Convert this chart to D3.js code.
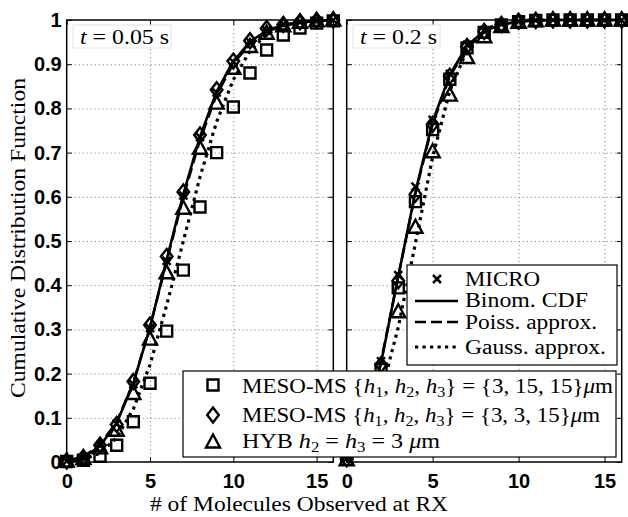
<!DOCTYPE html>
<html>
<head>
<meta charset="utf-8">
<script src="https://cdn.jsdelivr.net/npm/d3@7"></script>
<style>
body { margin: 0; background: #fff; }
</style>
</head>
<body>
<svg id="chart" width="628" height="517"></svg>
<script>
// x positions and ticks
const moleculeCounts = [0, 1, 2, 3, 4, 5, 6, 7, 8, 9, 10, 11, 12, 13, 14, 15, 16];
const xTickValues = [0, 5, 10, 15];
const yTickValues = [0, 0.1, 0.2, 0.3, 0.4, 0.5, 0.6, 0.7, 0.8, 0.9, 1];
const yTickLabels = ['0', '0.1', '0.2', '0.3', '0.4', '0.5', '0.6', '0.7', '0.8', '0.9', '1'];
const panelTimes = ['0.05', '0.2'];

// t = 0.05 s
const microEarly  = [0.002, 0.011, 0.037, 0.087, 0.176, 0.303, 0.455, 0.603, 0.735, 0.836, 0.905, 0.950, 0.976, 0.990, 0.995, 0.998, 1.000];
const binomEarly  = [0.002, 0.010, 0.036, 0.088, 0.178, 0.305, 0.458, 0.606, 0.736, 0.838, 0.906, 0.951, 0.976, 0.989, 0.995, 0.998, 0.999];
const poissEarly  = [0.003, 0.012, 0.039, 0.091, 0.180, 0.305, 0.454, 0.600, 0.729, 0.831, 0.901, 0.947, 0.973, 0.988, 0.994, 0.998, 0.999];
const gaussEarly  = [0.001, 0.006, 0.020, 0.055, 0.120, 0.220, 0.355, 0.500, 0.645, 0.770, 0.865, 0.930, 0.968, 0.987, 0.995, 0.998, 1.000];
const mesoCoarseEarly = [0.001, 0.004, 0.013, 0.038, 0.091, 0.178, 0.296, 0.434, 0.577, 0.700, 0.803, 0.880, 0.932, 0.966, 0.982, 0.993, 0.998];
const mesoFineEarly   = [0.002, 0.010, 0.038, 0.085, 0.182, 0.310, 0.465, 0.611, 0.740, 0.842, 0.907, 0.953, 0.981, 0.990, 0.996, 0.999, 1.000];
const hybEarly        = [0.002, 0.008, 0.032, 0.072, 0.155, 0.278, 0.428, 0.574, 0.710, 0.812, 0.891, 0.940, 0.970, 0.987, 0.995, 0.998, 1.000];

// t = 0.2 s
const microLate  = [0.008, 0.070, 0.228, 0.423, 0.623, 0.774, 0.878, 0.944, 0.976, 0.991, 0.997, 0.999, 1.000, 1.000, 1.000, 1.000, 1.000];
const binomLate  = [0.008, 0.068, 0.224, 0.420, 0.612, 0.770, 0.876, 0.942, 0.975, 0.990, 0.997, 0.999, 1.000, 1.000, 1.000, 1.000, 1.000];
const poissLate  = [0.010, 0.072, 0.228, 0.420, 0.608, 0.765, 0.872, 0.938, 0.972, 0.989, 0.996, 0.999, 1.000, 1.000, 1.000, 1.000, 1.000];
const gaussLate  = [0.020, 0.062, 0.155, 0.305, 0.495, 0.690, 0.840, 0.932, 0.977, 0.994, 0.999, 1.000, 1.000, 1.000, 1.000, 1.000, 1.000];
const mesoCoarseLate = [0.006, 0.060, 0.210, 0.394, 0.589, 0.752, 0.866, 0.937, 0.972, 0.989, 0.996, 0.999, 1.000, 1.000, 1.000, 1.000, 1.000];
const mesoFineLate   = [0.007, 0.066, 0.220, 0.410, 0.606, 0.764, 0.873, 0.940, 0.974, 0.990, 0.997, 0.999, 1.000, 1.000, 1.000, 1.000, 1.000];
const hybLate        = [0.005, 0.050, 0.180, 0.340, 0.531, 0.702, 0.830, 0.915, 0.962, 0.985, 0.995, 0.998, 1.000, 1.000, 1.000, 1.000, 1.000];

const TOP = 20;
const PLOT_H = 442;
const LINE_W = 2.6;
const DOT_W = 3.2;
const MARK_W = 2.4;
const SERIF = '"Liberation Serif", "Times New Roman", "DejaVu Serif", serif';
const SANS = '"Liberation Sans", Arial, Helvetica, sans-serif';
const DOTS = '3.2,4.3';
const DASHES = '11,5';

// marker shapes, centred on the point
const SQUARE = 'M-5.5,-5.5H5.5V5.5H-5.5Z';
const DIAMOND = 'M0,-7.5L5.8,0L0,7.5L-5.8,0Z';
const TRIANGLE = 'M0,-7.5L7,5.5H-7Z';
const CROSS = 'M-4,-4L4,4M-4,4L4,-4';

const svg = d3.select('#chart');

function drawPanel(left, width, series, showYLabels) {
    var g = svg.append('g').attr('transform', 'translate(' + left + ',' + TOP + ')');
    var x = d3.scaleLinear().domain([0, 16]).range([0, width]);
    var y = d3.scaleLinear().domain([0, 1]).range([PLOT_H, 0]);

    // dotted grid
    var gx = g.append('g').attr('transform', 'translate(0,' + PLOT_H + ')')
        .call(d3.axisBottom(x).tickValues([5, 10, 15]).tickSize(-PLOT_H).tickFormat(''));
    var gy = g.append('g')
        .call(d3.axisLeft(y).tickValues(yTickValues.slice(1, 10)).tickSize(-width).tickFormat(''));
    [gx, gy].forEach(function(a) {
        a.select('.domain').remove();
        a.selectAll('line').attr('stroke', '#777').attr('stroke-width', 1).attr('stroke-dasharray', '1,3');
    });

    // inner tick marks on all four sides
    var tickSets = [
        g.append('g').attr('transform', 'translate(0,' + PLOT_H + ')').call(d3.axisBottom(x).tickValues(xTickValues).tickSize(-5).tickFormat('')),
        g.append('g').call(d3.axisTop(x).tickValues(xTickValues).tickSize(-5).tickFormat('')),
        g.append('g').call(d3.axisLeft(y).tickValues(yTickValues).tickSize(-5).tickFormat('')),
        g.append('g').attr('transform', 'translate(' + width + ',0)').call(d3.axisRight(y).tickValues(yTickValues).tickSize(-5).tickFormat(''))
    ];
    tickSets.forEach(function(a) {
        a.select('.domain').remove();
        a.selectAll('line').attr('stroke', '#000').attr('stroke-width', 1);
    });

    // tick labels
    var xl = g.append('g').attr('transform', 'translate(0,' + PLOT_H + ')')
        .call(d3.axisBottom(x).tickValues(xTickValues).tickSize(0).tickPadding(12).tickFormat(d3.format('d')));
    xl.select('.domain').remove();
    xl.attr('font-family', SANS).attr('font-size', 20).attr('font-weight', 'bold');
    if (showYLabels) {
        var yl = g.append('g')
            .call(d3.axisLeft(y).tickValues(yTickValues).tickSize(0).tickPadding(5)
                .tickFormat(function(d, i) { return yTickLabels[i]; }));
        yl.select('.domain').remove();
        yl.attr('font-family', SANS).attr('font-size', 20).attr('font-weight', 'bold');
    }
    g.selectAll('.tick text').attr('fill', '#000');

    // analytic curves
    var line = d3.line().x(function(d) { return x(d[0]); }).y(function(d) { return y(d[1]); });
    var curves = [
        [series.binom, null],
        [series.poiss, DASHES],
        [series.gauss, DOTS]
    ];
    curves.forEach(function(c) {
        g.append('path')
            .datum(d3.zip(moleculeCounts, c[0]))
            .attr('d', line)
            .attr('fill', 'none')
            .attr('stroke', '#000')
            .attr('stroke-width', c[1] === DOTS ? DOT_W : LINE_W)
            .attr('stroke-dasharray', c[1]);
    });

    // simulation markers
    var marks = [
        [series.meso1, SQUARE],
        [series.meso2, DIAMOND],
        [series.hyb, TRIANGLE],
        [series.micro, CROSS]
    ];
    marks.forEach(function(m) {
        g.append('g').selectAll('path')
            .data(d3.zip(moleculeCounts, m[0]))
            .join('path')
            .attr('transform', function(d) { return 'translate(' + x(d[0]) + ',' + y(d[1]) + ')'; })
            .attr('d', m[1])
            .attr('fill', 'none')
            .attr('stroke', '#000')
            .attr('stroke-width', MARK_W);
    });

    // axes box
    g.append('rect').attr('width', width).attr('height', PLOT_H)
        .attr('fill', 'none').attr('stroke', '#000').attr('stroke-width', 1.5);
    return g;
}

// rich text: segments [text, style] where style is 'i' (italic) or 'sub'
function richText(parent, px, py, segs, size, len) {
    var t = parent.append('text').attr('x', px).attr('y', py)
        .attr('font-size', size).attr('font-family', SERIF).attr('fill', '#000');
    var shifted = false;
    segs.forEach(function(s) {
        var ts = t.append('tspan').text(s[0]);
        if (s[1] === 'i') ts.attr('font-style', 'italic');
        if (s[1] === 'sub') {
            ts.attr('font-size', size * 0.7).attr('dy', shifted ? 0 : 4);
            shifted = true;
        } else if (shifted) {
            ts.attr('dy', -4);
            shifted = false;
        }
    });
    if (len) t.attr('textLength', len).attr('lengthAdjust', 'spacingAndGlyphs');
    return t;
}

var early = { micro: microEarly, binom: binomEarly, poiss: poissEarly, gauss: gaussEarly,
              meso1: mesoCoarseEarly, meso2: mesoFineEarly, hyb: hybEarly };
var late  = { micro: microLate, binom: binomLate, poiss: poissLate, gauss: gaussLate,
              meso1: mesoCoarseLate, meso2: mesoFineLate, hyb: hybLate };

drawPanel(66.7, 266.6, early, true);
drawPanel(346.7, 275, late, false);

// time labels
[[73, 98, 80, 89], [353, 87, 360, 77]].forEach(function(b, i) {
    svg.append('rect').attr('x', b[0]).attr('y', 25).attr('width', b[1]).attr('height', 23)
        .attr('fill', '#fff').attr('stroke', '#e4e4e4').attr('stroke-width', 1);
    richText(svg, b[2], 44, [['t', 'i'], [' = ' + panelTimes[i] + ' s']], 20, b[3]);
});

// axis titles
richText(svg, 150, 511, [['# of Molecules Observed at RX']], 20, 298);
svg.append('text').attr('transform', 'translate(25,398) rotate(-90)')
    .attr('font-size', 20).attr('font-family', SERIF).attr('fill', '#000')
    .attr('textLength', 320).attr('lengthAdjust', 'spacingAndGlyphs')
    .text('Cumulative Distribution Function');

// legend for the analytic curves
var leg1 = svg.append('g');
leg1.append('rect').attr('x', 407).attr('y', 265).attr('width', 210).attr('height', 100)
    .attr('fill', '#fff').attr('stroke', '#000').attr('stroke-width', 1.2);
leg1.append('path').attr('d', CROSS).attr('transform', 'translate(437,279)')
    .attr('fill', 'none').attr('stroke', '#000').attr('stroke-width', 2.5);
[[301, null], [322, DASHES], [347, DOTS]].forEach(function(l) {
    leg1.append('line').attr('x1', 415).attr('x2', 458).attr('y1', l[0]).attr('y2', l[0])
        .attr('stroke', '#000').attr('stroke-width', l[1] === DOTS ? DOT_W : LINE_W).attr('stroke-dasharray', l[1]);
});
richText(leg1, 465, 286, [['MICRO']], 20, 75);
richText(leg1, 465, 307, [['Binom. CDF']], 20, 123);
richText(leg1, 465, 329, [['Poiss. approx.']], 20, 132);
richText(leg1, 465, 354, [['Gauss. approx.']], 20, 141);

// legend for the simulation schemes
var leg2 = svg.append('g');
leg2.append('rect').attr('x', 183).attr('y', 371).attr('width', 433).attr('height', 86)
    .attr('fill', '#fff').attr('stroke', '#000').attr('stroke-width', 1.2);
[[SQUARE, 385], [DIAMOND, 415], [TRIANGLE, 442]].forEach(function(m) {
    leg2.append('path').attr('d', m[0]).attr('transform', 'translate(213,' + m[1] + ')')
        .attr('fill', 'none').attr('stroke', '#000').attr('stroke-width', MARK_W);
});
richText(leg2, 242, 393, [['MESO-MS {'], ['h', 'i'], ['1', 'sub'], [', '], ['h', 'i'], ['2', 'sub'], [', '],
    ['h', 'i'], ['3', 'sub'], ['} = {3, 15, 15}'], ['μ', 'i'], ['m']], 21, 371);
richText(leg2, 242, 422, [['MESO-MS {'], ['h', 'i'], ['1', 'sub'], [', '], ['h', 'i'], ['2', 'sub'], [', '],
    ['h', 'i'], ['3', 'sub'], ['} = {3, 3, 15}'], ['μ', 'i'], ['m']], 21, 358);
richText(leg2, 242, 448, [['HYB '], ['h', 'i'], ['2', 'sub'], [' = '], ['h', 'i'], ['3', 'sub'], [' = 3 '],
    ['μ', 'i'], ['m']], 21, 198);
</script>
</body>
</html>
